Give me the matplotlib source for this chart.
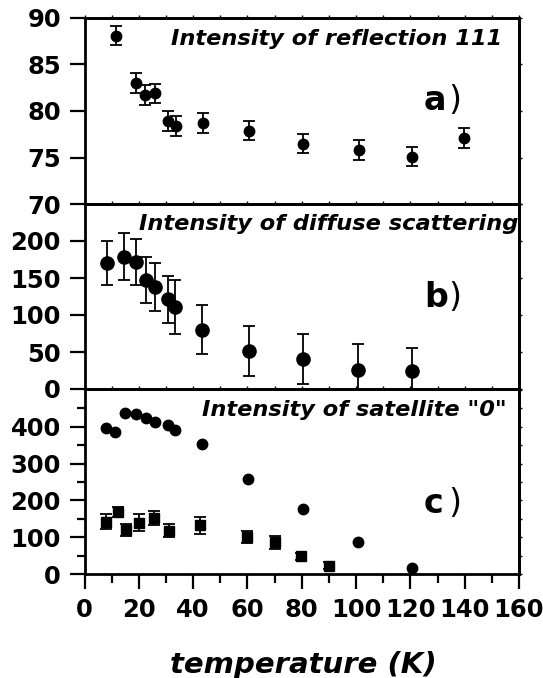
import matplotlib
matplotlib.use("Agg")
import matplotlib.pyplot as plt
from matplotlib.ticker import MultipleLocator, FixedLocator

plt.rcParams['font.family'] = ['DejaVu Sans']
plt.rcParams['font.weight'] = 'bold'

# ---- data ----
a_x = [11.5, 18.8, 22.4, 25.9, 30.9, 33.6, 43.5, 60.7, 80.6, 101.0, 120.5, 139.9]
a_y = [88.1, 83.0, 81.7, 81.9, 78.9, 78.4, 78.7, 77.9, 76.5, 75.8, 75.1, 77.1]
a_err = [1.05, 1.05, 1.05, 1.05, 1.05, 1.05, 1.05, 1.05, 1.05, 1.05, 1.05, 1.05]

b_x = [8.3, 14.7, 18.9, 22.6, 25.8, 30.6, 33.5, 43.1, 60.7, 80.4, 100.6, 120.6]
b_y = [170, 179, 172, 147, 138, 121, 111, 80, 51, 41, 26, 25]
b_err = [30, 32, 31, 31, 32, 32, 36, 33, 34, 34, 35, 30]

c1_x = [7.9, 11.3, 14.8, 18.8, 22.6, 25.9, 30.6, 33.5, 43.1, 60.3, 80.4, 100.6, 120.6]
c1_y = [397, 386, 437, 434, 423, 412, 404, 391, 354, 259, 177, 86, 15]

c2_x = [7.9, 12.2, 15.4, 20.2, 25.6, 31.0, 42.7, 59.7, 70.0, 79.9, 89.9]
c2_y = [142, 168, 119, 140, 152, 118, 132, 101, 86, 48, 23]
c2_err = [21, 13, 17, 22, 20, 18, 22, 16, 17, 10, 9]

a_yticks = [70, 75, 80, 85, 90]
b_yticks = [0, 50, 100, 150, 200]
c_yticks = [0, 100, 200, 300, 400]
c_yminor = [50, 150, 250, 350, 450]

titles = ['Intensity of reflection 111', 'Intensity of diffuse scattering', 'Intensity of satellite "0"']
letters = ['a', 'b', 'c']
xlabel = 'temperature (K)'

W, H = 543, 678
fig = plt.figure(figsize=(W / 100, H / 100), dpi=100)

left = 84.5 / W
width = (519 - 84.5) / W
def rect(top, bot):
    return [left, 1 - bot / H, width, (bot - top) / H]

ax_a = fig.add_axes(rect(18, 204))
ax_b = fig.add_axes(rect(204, 389))
ax_c = fig.add_axes(rect(389, 574))
axes = [ax_a, ax_b, ax_c]

ebkw = dict(color='k', ecolor='k', elinewidth=1.3, capsize=4.5, capthick=1.3, linestyle='none')
ax_a.errorbar(a_x, a_y, yerr=a_err, fmt='o', ms=7.5, **ebkw)
ax_b.errorbar(b_x, b_y, yerr=b_err, fmt='o', ms=9.5, **ebkw)
ax_c.plot(c1_x, c1_y, 'o', ms=7.5, color='k', linestyle='none')
ax_c.errorbar(c2_x, c2_y, yerr=c2_err, fmt='s', ms=6.5, **ebkw)

ax_a.set_ylim(70, 90)
ax_b.set_ylim(0, 250)
ax_c.set_ylim(0, 503)
ax_a.yaxis.set_major_locator(FixedLocator(a_yticks))
ax_b.yaxis.set_major_locator(FixedLocator(b_yticks))
ax_c.yaxis.set_major_locator(FixedLocator(c_yticks))
ax_c.yaxis.set_minor_locator(FixedLocator(c_yminor))

tick_font = 17.5
for i, ax in enumerate(axes):
    ax.set_xlim(0, 160)
    ax.xaxis.set_major_locator(MultipleLocator(20))
    ax.xaxis.set_minor_locator(MultipleLocator(10))
    for s in ax.spines.values():
        s.set_linewidth(2.0)
    ax.tick_params(axis='y', which='major', direction='out', length=11, width=1.6,
                   pad=6, labelsize=tick_font)
    ax.tick_params(axis='y', which='minor', direction='out', length=6, width=1.6)
    if ax is ax_c:
        ax.tick_params(axis='x', which='major', direction='out', length=11, width=1.6,
                       pad=6, labelsize=tick_font)
        ax.tick_params(axis='x', which='minor', direction='out', length=6.5, width=1.6)
    else:
        ax.tick_params(axis='x', which='both', direction='out', length=2, width=1.0,
                       labelbottom=False)
    for lab in ax.get_xticklabels() + ax.get_yticklabels():
        lab.set_fontweight('bold')
    # top and right small ticks
    sx = ax.secondary_xaxis('top')
    sx.xaxis.set_major_locator(MultipleLocator(10))
    sx.tick_params(direction='out', length=2, width=1.0, labeltop=False)
    sx.spines['top'].set_linewidth(2.0)
    sy = ax.secondary_yaxis('right')
    loc = {0: 5, 1: 50, 2: 50}[i]
    sy.yaxis.set_major_locator(MultipleLocator(loc))
    sy.tick_params(direction='out', length=2.5, width=1.0, labelright=False)
    sy.spines['right'].set_linewidth(2.0)

# titles
title_pos = [(0.961, 0.857), (0.998, 0.861), (0.972, 0.854)]
for ax, t, (tx, ty) in zip(axes, titles, title_pos):
    ax.text(tx, ty, t, transform=ax.transAxes, ha='right', va='baseline',
            fontsize=16.2, fontweight='bold', fontstyle='italic')

# panel letters
letter_y = [0.505, 0.443, 0.33]
for ax, l, ly in zip(axes, letters, letter_y):
    ax.text(0.781, ly, l, transform=ax.transAxes, ha='left', va='baseline',
            fontsize=24, fontweight='bold')
    ax.text(0.8366, ly, ')', transform=ax.transAxes, ha='left', va='baseline',
            fontsize=24, fontweight='normal')

fig.text(303 / W, 1 - 673 / H, xlabel, ha='center', va='baseline',
         fontsize=21, fontweight='bold', fontstyle='italic')

fig.savefig('out.png', dpi=100)
